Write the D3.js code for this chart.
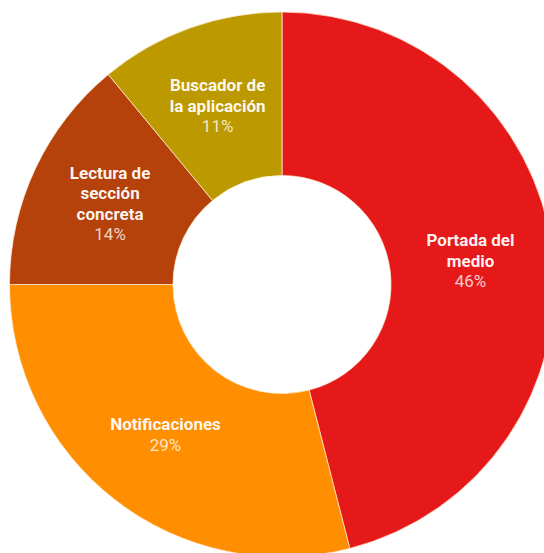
<!DOCTYPE html>
<html>
<head>
<meta charset="utf-8">
<script src="https://cdn.jsdelivr.net/npm/d3@7"></script>
<style>
  html, body { margin: 0; padding: 0; background: #ffffff; overflow: hidden; }
  svg { display: block; }
</style>
</head>
<body>
<svg id="chart" width="544" height="553"></svg>
<script>
// Origen de las visitas: cuota por punto de entrada
const categories = ["Portada del medio", "Notificaciones", "Lectura de sección concreta", "Buscador de la aplicación"];
const labelLines = [["Portada del", "medio"], ["Notificaciones"], ["Lectura de", "sección", "concreta"], ["Buscador de", "la aplicación"]];
const values = [46, 29, 14, 11];
const colors = ["#e6191a", "#ff8e00", "#b4420a", "#bd9900"];

const width = 544, height = 553;
const cx = 282, cy = 284.5;
const outerR = 272.5, innerR = 109, labelR = 190;
const fontSize = 17, lineH = 20.5;

const svg = d3.select("#chart");
const g = svg.append("g").attr("transform", `translate(${cx},${cy})`);

const pie = d3.pie().value(d => d.value).sort(null);
const arc = d3.arc().innerRadius(innerR).outerRadius(outerR);
const labelArc = d3.arc().innerRadius(labelR).outerRadius(labelR);

const data = categories.map((c, i) => ({ name: c, lines: labelLines[i], value: values[i], color: colors[i] }));
const arcs = pie(data);

g.selectAll("path.slice")
  .data(arcs)
  .join("path")
  .attr("class", "slice")
  .attr("d", arc)
  .attr("fill", d => d.data.color)
  .attr("stroke", "rgba(255,235,210,0.75)")
  .attr("stroke-width", 1);

const labels = g.selectAll("text.label")
  .data(arcs)
  .join("text")
  .attr("class", "label")
  .attr("text-anchor", "middle")
  .attr("font-family", "Roboto, 'Noto Sans', sans-serif")
  .attr("font-size", fontSize)
  .attr("transform", d => `translate(${labelArc.centroid(d)})`);

labels.each(function (d) {
  const t = d3.select(this);
  const lines = d.data.lines.map(s => ({ text: s, bold: true }))
    .concat([{ text: d.data.value + "%", bold: false }]);
  const n = lines.length;
  lines.forEach((ln, i) => {
    t.append("tspan")
      .attr("x", 0)
      .attr("y", (i - (n - 1) / 2) * lineH + 6)
      .attr("font-weight", ln.bold ? 700 : 400)
      .attr("fill", ln.bold ? "rgba(255,255,255,0.95)" : "rgba(255,255,255,0.78)")
      .text(ln.text);
  });
});
</script>
</body>
</html>
